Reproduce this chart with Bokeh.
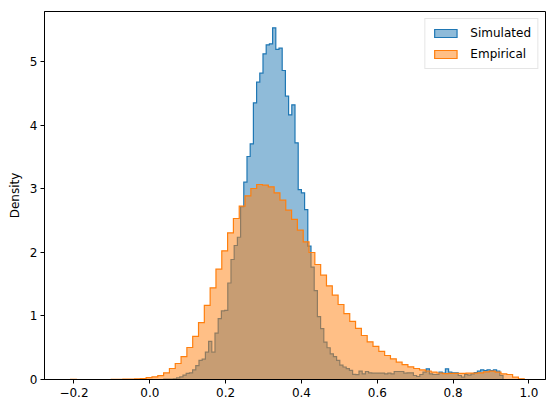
import numpy as np
from bokeh.plotting import figure
from bokeh.models import Range1d, FixedTicker, Legend, LegendItem
from bokeh.embed import file_html
from bokeh.resources import INLINE

# ---------------- data ----------------
series_names = ["Simulated", "Empirical"]

sim_bin_start = 0.0369
sim_bin_width = 0.00844
sim_density = [
    0.005, 0.005, 0.008, 0.010, 0.025, 0.040, 0.070, 0.095, 0.105, 0.150,
    0.220, 0.300, 0.320, 0.430, 0.600, 0.430, 0.730, 0.960, 1.080, 1.090,
    1.520, 1.890, 2.110, 2.240, 2.720, 3.107, 3.512, 3.711, 4.357, 4.682,
    4.824, 5.129, 5.271, 5.286, 5.538, 5.197, 5.218, 4.866, 4.462, 4.168,
    4.325, 3.727, 2.990, 2.940, 2.675, 2.100, 1.770, 1.400, 0.990, 0.800,
    0.590, 0.500, 0.405, 0.360, 0.300, 0.225, 0.197, 0.170, 0.145, 0.080,
    0.078, 0.131, 0.089, 0.126, 0.105, 0.100, 0.100, 0.100, 0.100, 0.089,
    0.100, 0.089, 0.126, 0.126, 0.126, 0.100, 0.105, 0.105, 0.063, 0.047,
    0.079, 0.115, 0.168, 0.089, 0.079, 0.079, 0.115, 0.100, 0.168, 0.115,
    0.105, 0.105, 0.063, 0.037, 0.079, 0.068, 0.089, 0.110, 0.131, 0.152,
    0.142, 0.152, 0.142, 0.152, 0.131, 0.063,
]

emp_bin_start = -0.209
emp_bin_width = 0.01534
emp_density = [
    0.004, 0.0, 0.0, 0.0, 0.0, 0.0, 0.0, 0.002, 0.003, 0.005,
    0.006, 0.010, 0.016, 0.028, 0.042, 0.060, 0.105, 0.173, 0.252, 0.360,
    0.504, 0.680, 0.895, 1.168, 1.444, 1.738, 2.026, 2.310, 2.535, 2.730,
    2.892, 3.008, 3.071, 3.060, 3.034, 2.940, 2.824, 2.667, 2.520, 2.352,
    2.168, 2.000, 1.811, 1.643, 1.475, 1.328, 1.181, 1.036, 0.915, 0.805,
    0.693, 0.593, 0.522, 0.443, 0.378, 0.325, 0.273, 0.234, 0.200, 0.173,
    0.150, 0.134, 0.115, 0.102, 0.092, 0.095, 0.095, 0.098, 0.100, 0.100,
    0.105, 0.121, 0.131, 0.115, 0.089, 0.079, 0.037, 0.010,
]

x_ticks = [-0.2, 0.0, 0.2, 0.4, 0.6, 0.8, 1.0]
x_tick_labels = ["\u22120.2", "0.0", "0.2", "0.4", "0.6", "0.8", "1.0"]
y_ticks = [0, 1, 2, 3, 4, 5]
y_label = "Density"

# ---------------- figure ----------------
FONT = "DejaVu Sans"
p = figure(width=554, height=413, output_backend="svg", toolbar_location=None,
           x_range=Range1d(-0.2777, 1.0436), y_range=Range1d(0, 5.795),
           min_border_left=44, min_border_right=9, min_border_top=11,
           min_border_bottom=34)
p.background_fill_color = "white"
p.border_fill_color = "white"
p.outline_line_color = "black"
p.outline_line_width = 1
p.outline_line_alpha = 1
p.xgrid.visible = False
p.ygrid.visible = False


def step_polygon(start, width, heights):
    h = np.asarray(heights, dtype=float)
    edges = start + width * np.arange(len(h) + 1)
    xs = np.repeat(edges, 2)
    ys = np.concatenate([[0.0], np.repeat(h, 2), [0.0]])
    return xs, ys


colors = ["#1f77b4", "#ff7f0e"]
specs = [(sim_bin_start, sim_bin_width, sim_density),
         (emp_bin_start, emp_bin_width, emp_density)]
renderers = []
for (start, width, dens), c in zip(specs, colors):
    xs, ys = step_polygon(start, width, dens)
    r = p.patch(xs, ys, fill_color=c, fill_alpha=0.5, line_color=c,
                line_width=1.2, line_join="miter")
    renderers.append(r)

# axes
p.xaxis.ticker = FixedTicker(ticks=x_ticks)
p.xaxis.major_label_overrides = {t: l for t, l in zip(x_ticks, x_tick_labels)}
p.yaxis.ticker = FixedTicker(ticks=y_ticks)
p.yaxis.axis_label = y_label
for ax in (p.xaxis, p.yaxis):
    ax.axis_line_color = "black"
    ax.major_tick_line_color = "black"
    ax.major_tick_out = 4
    ax.major_tick_in = 0
    ax.minor_tick_line_color = None
    ax.major_label_text_font = FONT
    ax.major_label_text_font_size = "12px"
    ax.major_label_text_color = "black"
    ax.axis_label_text_font = FONT
    ax.axis_label_text_font_size = "12px"
    ax.axis_label_text_font_style = "normal"
    ax.axis_label_text_color = "black"
p.xaxis.major_label_standoff = 4
p.yaxis.major_label_standoff = 3
p.yaxis.axis_label_standoff = 5

legend = Legend(items=[LegendItem(label=n, renderers=[r])
                       for n, r in zip(series_names, renderers)],
                location="top_right")
legend.label_text_font = FONT
legend.label_text_font_size = "12px"
legend.label_text_color = "black"
legend.glyph_width = 28
legend.glyph_height = 10
legend.label_height = 16
legend.label_standoff = 11
legend.spacing = 5
legend.padding = 6
legend.margin = 7
legend.border_line_color = "#cccccc"
legend.border_line_width = 1
legend.background_fill_alpha = 0.8
p.add_layout(legend)

open("out.html", "w").write(file_html(p, INLINE))
